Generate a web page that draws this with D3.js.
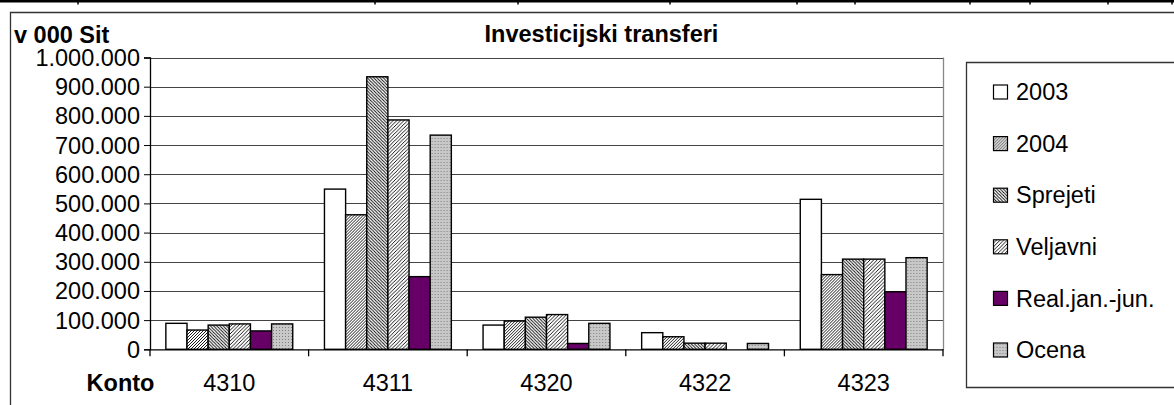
<!DOCTYPE html>
<html>
<head>
<meta charset="utf-8">
<script src="https://cdn.jsdelivr.net/npm/d3@7"></script>
<style>
  body { margin: 0; background: #fff; }
  svg { display: block; font-family: Arial, "Liberation Sans", sans-serif; }
</style>
</head>
<body>
<svg id="chart" width="1174" height="405"></svg>
<script>
// data (v 000 Sit)
var konto = ["4310", "4311", "4320", "4322", "4323"];
var seriesNames = ["2003", "2004", "Sprejeti", "Veljavni", "Real.jan.-jun.", "Ocena"];
var val2003     = [89000, 549000, 83000, 57000, 514000];
var val2004     = [66000, 461000, 97000, 43000, 256000];
var valSprejeti = [83000, 934000, 110000, 21000, 309000];
var valVeljavni = [87000, 786000, 119000, 21000, 309000];
var valReal     = [63000, 249000, 20000, 0, 197000];
var valOcena    = [87000, 734000, 89000, 20000, 314000];
var yTicks = [0, 100000, 200000, 300000, 400000, 500000, 600000, 700000, 800000, 900000, 1000000];
var tableTicks = [78, 375, 518, 670, 797, 855, 970, 1030, 1108, 1172];

var allValues = [val2003, val2004, valSprejeti, valVeljavni, valReal, valOcena];

var svg = d3.select("#chart");
var plot = { left: 150, right: 943, top: 57.5, bottom: 349.3 };
var fs = "23.5px";

var defs = svg.append("defs");
function stripes(id, dir, gap) {
  var p = defs.append("pattern").attr("id", id)
    .attr("patternUnits", "userSpaceOnUse")
    .attr("width", gap).attr("height", gap);
  p.append("rect").attr("width", gap).attr("height", gap).attr("fill", "#fff");
  if (dir > 0) {
    p.append("path").attr("d", "M0," + gap + " L" + gap + ",0 M-1,1 L1,-1 M" + (gap - 1) + "," + (gap + 1) + " L" + (gap + 1) + "," + (gap - 1));
  } else {
    p.append("path").attr("d", "M0,0 L" + gap + "," + gap + " M-1," + (gap - 1) + " L1," + (gap + 1) + " M" + (gap - 1) + ",-1 L" + (gap + 1) + ",1");
  }
  p.select("path").attr("stroke", "#000").attr("stroke-width", 0.9);
}
stripes("p2004", 1, 3);
stripes("pSprejeti", -1, 3.2);
stripes("pVeljavni", 1, 3.6);
var dots = defs.append("pattern").attr("id", "pOcena")
  .attr("patternUnits", "userSpaceOnUse").attr("width", 3).attr("height", 3);
dots.append("rect").attr("width", 3).attr("height", 3).attr("fill", "#c8c8c8");
dots.append("rect").attr("width", 1).attr("height", 1).attr("fill", "#808080");

var fills = ["#ffffff", "url(#p2004)", "url(#pSprejeti)", "url(#pVeljavni)", "#660066", "url(#pOcena)"];

// table line above the chart
svg.append("line").attr("x1", 0).attr("x2", 1174).attr("y1", 1.3).attr("y2", 1.3)
  .attr("stroke", "#000").attr("stroke-width", 2.6);
svg.selectAll("line.tt").data(tableTicks).enter().append("line").attr("class", "tt")
  .attr("x1", d => d).attr("x2", d => d).attr("y1", 0).attr("y2", 4.5)
  .attr("stroke", "#000").attr("stroke-width", 1.5);

// chart frame
svg.append("path").attr("d", "M1180,12.5 L10.5,12.5 L10.5,410")
  .attr("fill", "none").attr("stroke", "#333").attr("stroke-width", 1.3);

var x0 = d3.scaleBand().domain(konto).range([plot.left, plot.right]).paddingInner(0);
var bw = x0.bandwidth() / (seriesNames.length + 1.5);
var x1 = d3.scaleBand().domain(seriesNames)
  .range([bw * 0.75, x0.bandwidth() - bw * 0.75]).padding(0);
var y = d3.scaleLinear().domain([0, 1000000]).range([plot.bottom, plot.top]);

var loc = d3.formatLocale({ decimal: ",", thousands: ".", grouping: [3], currency: ["", ""] });
var fmt = loc.format(",d");

// gridlines
svg.append("g").selectAll("line").data(yTicks.slice(1)).enter().append("line")
  .attr("x1", plot.left).attr("x2", plot.right)
  .attr("y1", d => Math.round(y(d)) + 0.5).attr("y2", d => Math.round(y(d)) + 0.5)
  .attr("stroke", "#444").attr("stroke-width", 1);
svg.append("line").attr("x1", plot.right + 0.5).attr("x2", plot.right + 0.5)
  .attr("y1", plot.top).attr("y2", plot.bottom).attr("stroke", "#888").attr("stroke-width", 1.3);

// bars
var groups = svg.append("g").selectAll("g").data(konto).enter().append("g")
  .attr("transform", d => "translate(" + x0(d) + ",0)");
groups.selectAll("rect").data((k, ci) => seriesNames.map((s, si) => ({ s: s, si: si, v: allValues[si][ci] })))
  .enter().filter(d => d.v > 0).append("rect")
  .attr("x", d => x1(d.s))
  .attr("width", x1.bandwidth())
  .attr("y", d => y(d.v))
  .attr("height", d => y(0) - y(d.v))
  .attr("fill", d => fills[d.si])
  .attr("stroke", "#000").attr("stroke-width", 1.4);

// y axis
var yAxis = d3.axisLeft(y).tickValues(yTicks).tickFormat(fmt).tickSize(6).tickPadding(4);
var ya = svg.append("g").attr("transform", "translate(" + plot.left + ",0)").call(yAxis);
ya.select(".domain").attr("stroke", "#000").attr("stroke-width", 1.3);
ya.selectAll("text").attr("font-size", fs).attr("font-family", "Arial, 'Liberation Sans', sans-serif")
  .attr("fill", "#000").attr("dy", "0.34em");
ya.selectAll(".tick line").attr("stroke", "#000");

// x axis
var xAxis = d3.axisBottom(x0).tickSize(0).tickPadding(25);
var xa = svg.append("g").attr("transform", "translate(0," + plot.bottom + ")").call(xAxis);
xa.select(".domain").attr("stroke", "#000").attr("stroke-width", 1.3);
xa.selectAll("text").attr("font-size", fs).attr("font-family", "Arial, 'Liberation Sans', sans-serif")
  .attr("fill", "#000");
svg.append("g").selectAll("line").data(konto).enter().append("line")
  .attr("x1", d => x0(d) + x0.bandwidth()).attr("x2", d => x0(d) + x0.bandwidth())
  .attr("y1", plot.bottom).attr("y2", plot.bottom + 7)
  .attr("stroke", "#000").attr("stroke-width", 1.3);
svg.append("line").attr("x1", plot.left).attr("x2", plot.left)
  .attr("y1", plot.bottom).attr("y2", plot.bottom + 7).attr("stroke", "#000").attr("stroke-width", 1.3);

// titles
svg.append("text").attr("x", 14).attr("y", 42.5).attr("font-size", fs).attr("font-weight", "bold")
  .text("v 000 Sit");
svg.append("text").attr("x", 601.5).attr("y", 41.5).attr("text-anchor", "middle")
  .attr("font-size", fs).attr("font-weight", "bold").text("Investicijski transferi");
svg.append("text").attr("x", 120.5).attr("y", 391).attr("text-anchor", "middle")
  .attr("font-size", fs).attr("font-weight", "bold").text("Konto");

// legend
svg.append("path").attr("d", "M1180,62.5 L966.5,62.5 L966.5,387.5 L1180,387.5")
  .attr("fill", "#fff").attr("stroke", "#333").attr("stroke-width", 1.3);
var leg = svg.append("g").selectAll("g").data(seriesNames).enter().append("g")
  .attr("transform", (d, i) => "translate(993.5," + (92 + i * 51.6) + ")");
leg.append("rect").attr("x", 0).attr("y", -7).attr("width", 14).attr("height", 14)
  .attr("fill", (d, i) => fills[i]).attr("stroke", "#000").attr("stroke-width", 1.2);
leg.append("text").attr("x", 22.5).attr("y", 0).attr("dy", "0.35em")
  .attr("font-size", fs).text(d => d);
</script>
</body>
</html>
